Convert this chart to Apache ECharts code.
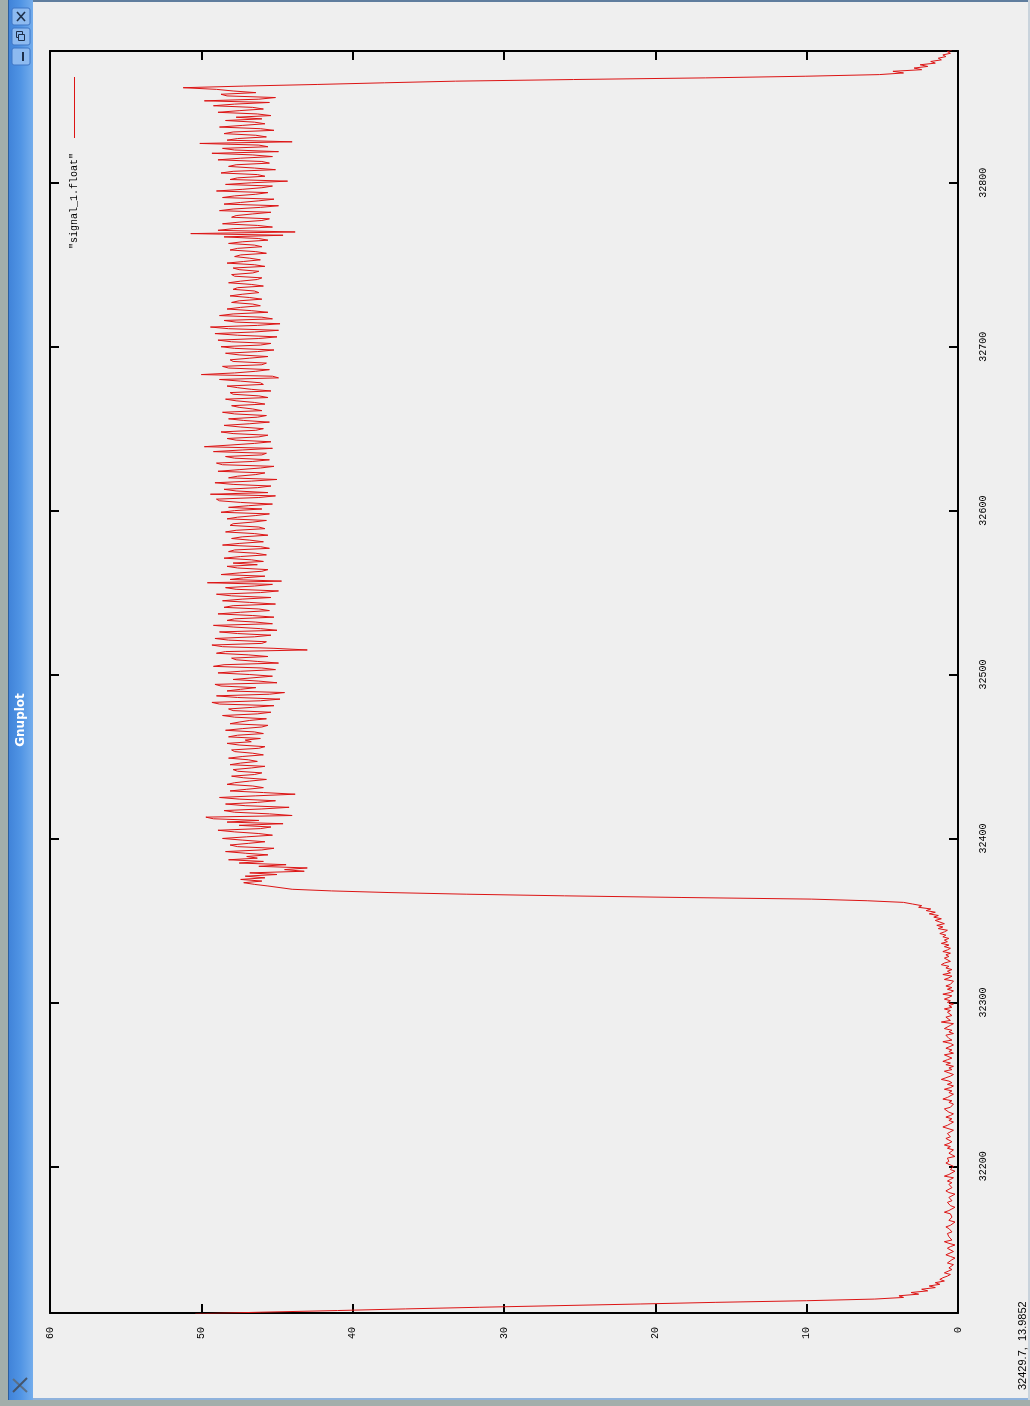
<!DOCTYPE html>
<html><head><meta charset="utf-8">
<script src="https://cdn.jsdelivr.net/npm/echarts@6/dist/echarts.min.js"></script>
<style>html,body{margin:0;padding:0;background:#efefef;}#c{width:1030px;height:1406px;}</style>
</head><body><div id="c"></div>
<script>
const WINDOW_TITLE = 'Gnuplot';
const SERIES_NAME = 'signal_1.float';
const STATUS_TEXT = '32429.7,  13.9852';
const SAMPLE_START = 32110;          // sample index of first value
const SAMPLE_MIN = 32110.5;          // visible sample range
const SAMPLE_MAX = 32880.4;
const SAMPLE_TICKS = [32200, 32300, 32400, 32500, 32600, 32700, 32800];
const VALUE_TICKS = [0, 10, 20, 30, 40, 50, 60];
const signal = [
/*32110*/ 50.4, 46.0, 41.0, 36.5, 31.6, 26.3, 21.0, 16.0, 10.0, 5.5,
/*32120*/ 3.6, 3.9, 2.6, 3.1, 2.0, 2.4, 1.5, 1.9, 1.2, 1.5,
/*32130*/ 0.9, 1.2, 1.0, 0.7, 0.5, 0.9, 0.8, 0.4, 0.6, 0.5,
/*32140*/ 0.3, 0.7, 0.6, 0.4, 0.2, 0.5, 0.8, 0.7, 0.3, 0.4,
/*32150*/ 0.7, 0.5, 0.2, 0.6, 0.9, 0.4, 0.3, 0.6, 0.5, 0.7,
/*32160*/ 0.4, 0.3, 0.6, 0.8, 0.5, 0.4, 0.2, 0.6, 0.7, 0.4,
/*32170*/ 0.3, 0.5, 0.9, 0.6, 0.4, 0.2, 0.5, 0.6, 0.7, 0.4,
/*32180*/ 0.3, 0.6, 0.5, 0.2, 0.6, 0.8, 0.7, 0.4, 0.3, 0.6,
/*32190*/ 0.4, 0.7, 0.5, 0.3, 0.9, 0.6, 0.4, 0.2, 0.5, 0.6,
/*32200*/ 0.3, 0.4, 0.8, 0.6, 0.5, 0.7, 0.2, 0.4, 0.6, 0.5,
/*32210*/ 0.3, 0.7, 0.5, 0.9, 0.6, 0.4, 0.3, 0.8, 0.5, 0.4,
/*32220*/ 0.7, 0.6, 0.3, 0.4, 1.0, 0.7, 0.5, 0.3, 0.6, 0.4,
/*32230*/ 0.8, 0.5, 0.3, 0.6, 0.7, 0.9, 0.5, 0.4, 0.3, 0.6,
/*32240*/ 0.4, 1.0, 0.7, 0.8, 0.3, 0.6, 0.4, 0.9, 0.5, 0.3,
/*32250*/ 0.7, 0.4, 0.6, 1.1, 0.8, 0.5, 0.3, 0.6, 0.9, 0.4,
/*32260*/ 0.6, 0.3, 0.8, 0.5, 1.0, 0.7, 0.4, 0.5, 0.9, 0.3,
/*32270*/ 0.6, 0.4, 0.8, 0.7, 0.3, 0.5, 1.0, 0.4, 0.6, 0.5,
/*32280*/ 0.8, 0.3, 0.6, 0.4, 0.9, 0.8, 0.5, 0.3, 1.1, 0.5,
/*32290*/ 0.6, 0.8, 0.4, 0.3, 0.7, 0.5, 0.9, 0.4, 0.6, 0.3,
/*32300*/ 0.7, 0.5, 0.9, 0.6, 0.4, 1.0, 0.5, 0.3, 0.7, 0.4,
/*32310*/ 0.8, 0.5, 0.6, 0.3, 0.9, 0.6, 0.4, 1.0, 0.5, 0.7,
/*32320*/ 0.4, 0.8, 0.6, 1.1, 0.9, 0.5, 0.4, 0.9, 0.6, 0.8,
/*32330*/ 0.5, 1.0, 0.7, 0.5, 0.9, 0.6, 1.1, 0.7, 0.9, 0.6,
/*32340*/ 1.0, 0.8, 1.2, 0.9, 0.7, 1.3, 1.0, 1.4, 0.9, 1.2,
/*32350*/ 1.5, 1.1, 1.6, 1.3, 1.9, 1.5, 2.1, 1.8, 2.6, 2.4,
/*32360*/ 3.0, 3.6, 6.0, 9.7, 18.3, 26.0, 32.5, 37.6, 41.4, 44.0,
/*32370*/ 44.8, 45.6, 46.5, 47.2, 46.0, 47.4, 45.8, 47.1, 45.0, 46.8,
/*32380*/ 43.2, 44.5, 43.0, 46.2, 44.4, 47.5, 45.9, 48.2, 46.3, 47.0,
/*32390*/ 45.6, 47.1, 48.4, 46.0, 45.2, 47.6, 48.1, 46.9, 45.8, 47.3,
/*32400*/ 48.6, 47.0, 45.3, 46.2, 47.8, 48.9, 46.1, 45.4, 47.5, 44.6,
/*32410*/ 48.3, 46.2, 49.2, 49.7, 44.0, 45.5, 47.8, 48.5, 46.0, 44.2,
/*32420*/ 47.1, 48.4, 46.3, 45.1, 47.5, 48.8, 46.4, 43.8, 45.9, 48.1,
/*32430*/ 47.0, 45.9, 46.6, 48.3, 47.8, 46.8, 45.7, 47.2, 48.0, 46.5,
/*32440*/ 46.0, 47.6, 47.9, 46.7, 45.8, 48.1, 47.4, 46.3, 46.9, 48.2,
/*32450*/ 47.3, 45.9, 46.6, 47.8, 48.0, 46.2, 45.8, 47.5, 48.3, 46.7,
/*32460*/ 47.1, 46.1, 48.2, 47.6, 45.9, 46.5, 48.4, 47.3, 46.0, 45.6,
/*32470*/ 48.1, 47.5, 46.8, 45.7, 47.8, 48.6, 46.3, 45.4, 47.9, 48.2,
/*32480*/ 46.6, 45.2, 48.8, 49.3, 46.1, 44.8, 47.6, 49.0, 45.5, 44.5,
/*32490*/ 48.3, 47.4, 46.4, 48.7, 49.1, 45.0, 46.2, 47.9, 48.0, 45.3,
/*32500*/ 46.8, 48.9, 47.4, 45.1, 46.0, 49.2, 48.5, 44.9, 46.3, 47.7,
/*32510*/ 48.0, 45.6, 46.9, 49.0, 48.4, 43.0, 45.2, 48.6, 49.3, 46.0,
/*32520*/ 45.7, 48.2, 49.1, 46.5, 45.4, 47.6, 48.8, 45.0, 46.1, 47.9,
/*32530*/ 49.2, 45.3, 46.4, 48.3, 47.8, 45.2, 46.6, 48.9, 47.4, 45.5,
/*32540*/ 46.2, 48.5, 47.9, 45.1, 46.8, 48.6, 47.3, 45.4, 48.0, 49.0,
/*32550*/ 46.1, 44.9, 47.7, 48.4, 46.5, 45.3, 49.6, 44.7, 48.1, 47.2,
/*32560*/ 45.8, 48.7, 47.5, 46.0, 45.6, 47.6, 48.3, 46.3, 47.9, 45.9,
/*32570*/ 46.7, 48.5, 47.4, 45.7, 46.4, 48.2, 47.8, 45.5, 46.1, 48.6,
/*32580*/ 47.5, 45.9, 46.8, 48.0, 47.3, 45.6, 46.5, 48.4, 47.7, 45.8,
/*32590*/ 46.2, 48.1, 47.9, 46.6, 45.7, 48.3, 47.6, 46.4, 45.5, 48.7,
/*32600*/ 47.8, 46.0, 48.2, 46.9, 45.3, 47.4, 48.8, 49.0, 46.2, 45.1,
/*32610*/ 49.4, 45.6, 47.7, 48.5, 46.3, 45.4, 47.9, 49.1, 46.7, 45.0,
/*32620*/ 48.2, 47.6, 46.4, 45.8, 48.9, 47.5, 46.1, 45.2, 48.6, 49.0,
/*32630*/ 46.6, 45.5, 47.8, 48.4, 46.0, 45.7, 49.2, 47.3, 45.3, 49.8,
/*32640*/ 48.1, 46.5, 45.4, 47.7, 48.3, 46.2, 45.6, 47.9, 48.7, 46.4,
/*32650*/ 45.9, 47.4, 48.5, 46.8, 45.5, 47.2, 48.2, 46.3, 45.7, 47.8,
/*32660*/ 48.6, 46.0, 46.6, 47.5, 48.0, 45.8, 46.5, 47.7, 48.4, 45.6,
/*32670*/ 46.2, 47.9, 48.1, 45.4, 46.7, 47.6, 48.3, 45.9, 46.1, 47.4,
/*32680*/ 48.8, 44.9, 45.3, 50.0, 47.8, 46.4, 45.5, 48.2, 48.6, 46.0,
/*32690*/ 45.7, 47.9, 48.1, 46.8, 45.6, 47.5, 48.4, 46.3, 45.2, 47.8,
/*32700*/ 48.7, 46.1, 45.4, 48.0, 48.9, 46.2, 45.0, 47.6, 49.1, 46.5,
/*32710*/ 44.9, 48.2, 49.4, 46.3, 44.8, 47.7, 48.5, 45.3, 46.0, 48.8,
/*32720*/ 47.9, 45.6, 46.7, 48.3, 47.4, 46.1, 46.6, 48.0, 47.5, 46.0,
/*32730*/ 46.8, 48.1, 47.3, 46.2, 46.5, 47.9, 47.6, 45.9, 46.7, 48.2,
/*32740*/ 47.4, 46.3, 46.0, 47.8, 48.0, 46.6, 46.2, 47.5, 47.9, 45.8,
/*32750*/ 46.5, 48.3, 47.2, 46.1, 46.8, 47.8, 47.4, 45.7, 46.4, 48.1,
/*32760*/ 47.6, 46.0, 46.5, 48.2, 47.3, 45.6, 46.2, 48.5, 44.6, 50.7,
/*32770*/ 43.8, 48.9, 47.9, 45.3, 46.3, 48.6, 47.5, 46.0, 45.5, 48.0,
/*32780*/ 47.7, 46.6, 45.4, 48.8, 47.9, 46.1, 44.9, 48.5, 47.4, 46.2,
/*32790*/ 45.2, 48.6, 47.8, 46.4, 45.6, 49.0, 47.3, 46.0, 45.3, 48.4,
/*32800*/ 46.7, 44.3, 48.1, 47.6, 45.8, 46.3, 48.7, 47.9, 45.1, 46.5,
/*32810*/ 48.2, 47.7, 45.5, 46.0, 48.9, 47.4, 45.3, 46.6, 49.3, 44.9,
/*32820*/ 47.8, 48.6, 45.6, 46.2, 50.1, 44.0, 48.3, 47.6, 45.7, 46.4,
/*32830*/ 48.5, 47.9, 45.2, 46.1, 48.8, 47.3, 45.8, 46.5, 48.4, 46.0,
/*32840*/ 47.7, 45.4, 46.3, 48.9, 47.5, 45.9, 46.6, 49.2, 47.8, 45.5,
/*32850*/ 49.8, 46.2, 45.1, 48.3, 48.7, 46.4, 47.9, 49.0, 51.2, 47.2,
/*32860*/ 42.3, 37.9, 33.2, 25.4, 16.7, 10.1, 5.2, 3.6, 4.3, 2.4,
/*32870*/ 2.9, 2.0, 2.5, 1.5, 1.8, 1.1, 1.3, 0.8, 1.0, 0.5,
/*32880*/ 0.7, 0.4
];

const chart = echarts.init(document.getElementById('c'), null, {renderer: 'canvas'});
const points = signal.map((v, i) => [v, SAMPLE_START + i]);
const AX = '#000000';
const tickFont = {color: AX, fontFamily: 'Liberation Mono', fontSize: 10};

function valueAxis(pos, labels) {
  return {
    type: 'value', position: pos, min: 0, max: 60, interval: 10, inverse: true,
    axisLine: {show: true, onZero: false, lineStyle: {color: AX, width: 2}},
    axisTick: {show: true, inside: true, length: 9, lineStyle: {color: AX, width: 2}, customValues: VALUE_TICKS},
    axisLabel: Object.assign({show: labels, rotate: 90, margin: 14, customValues: VALUE_TICKS}, tickFont),
    splitLine: {show: false}
  };
}
function sampleAxis(pos, labels) {
  return {
    type: 'value', position: pos, min: SAMPLE_MIN, max: SAMPLE_MAX, scale: true,
    axisLine: {show: true, onZero: false, lineStyle: {color: AX, width: 2}},
    axisTick: {show: true, inside: true, length: 9, lineStyle: {color: AX, width: 2}, customValues: SAMPLE_TICKS},
    axisLabel: Object.assign({show: labels, rotate: 90, margin: 20, customValues: SAMPLE_TICKS, formatter: v => String(v)}, tickFont),
    splitLine: {show: false}
  };
}

const RED = '#dc1414';
const graphics = [
  {type: 'rect', shape: {x: 0, y: 0, width: 8, height: 1406}, style: {fill: '#a3aeab'}, silent: true},
  {type: 'rect', shape: {x: 0, y: 1400, width: 1030, height: 6}, style: {fill: '#a3aeab'}, silent: true},
  {type: 'rect', shape: {x: 8, y: 1398, width: 1022, height: 2}, style: {fill: '#8fb2dc'}, silent: true},
  {type: 'rect', shape: {x: 8, y: 0, width: 1022, height: 2}, style: {fill: '#5f7d9e'}, silent: true},
  {type: 'rect', shape: {x: 1028, y: 0, width: 2, height: 1400}, style: {fill: '#c9d3dc'}, silent: true},
  {type: 'rect', shape: {x: 8, y: 0, width: 25, height: 1400},
   style: {fill: {type: 'linear', x: 0, y: 0, x2: 1, y2: 0,
     colorStops: [{offset: 0, color: '#3f82d8'}, {offset: 0.5, color: '#5094e4'}, {offset: 1, color: '#74adec'}]}}, silent: true},
  {type: 'rect', shape: {x: 8, y: 0, width: 1, height: 1400}, style: {fill: '#2d5e9e'}, silent: true},
  // buttons
  {type: 'rect', shape: {x: 12, y: 8, width: 18, height: 17, r: 2}, style: {fill: '#8dbaf0', stroke: '#3f76c6', lineWidth: 1}, silent: true},
  {type: 'line', shape: {x1: 17, y1: 12, x2: 25, y2: 21}, style: {stroke: '#1d2f4a', lineWidth: 1.6}, silent: true},
  {type: 'line', shape: {x1: 25, y1: 12, x2: 17, y2: 21}, style: {stroke: '#1d2f4a', lineWidth: 1.6}, silent: true},
  {type: 'rect', shape: {x: 12, y: 28, width: 18, height: 17, r: 2}, style: {fill: '#8dbaf0', stroke: '#3f76c6', lineWidth: 1}, silent: true},
  {type: 'rect', shape: {x: 16.5, y: 31.5, width: 6, height: 6}, style: {fill: 'none', stroke: '#1d2f4a', lineWidth: 1}, silent: true},
  {type: 'rect', shape: {x: 18.5, y: 34.5, width: 6, height: 6}, style: {fill: '#8dbaf0', stroke: '#1d2f4a', lineWidth: 1}, silent: true},
  {type: 'rect', shape: {x: 12, y: 48, width: 18, height: 17, r: 2}, style: {fill: '#8dbaf0', stroke: '#3f76c6', lineWidth: 1}, silent: true},
  {type: 'rect', shape: {x: 22, y: 52, width: 2, height: 9}, style: {fill: '#1d2f4a'}, silent: true},
  // title
  {type: 'text', x: 21, y: 720, rotation: Math.PI / 2,
   style: {text: WINDOW_TITLE, fill: '#ffffff', font: 'bold 12px "DejaVu Sans"', align: 'center', verticalAlign: 'middle'}, silent: true},
  // bottom-left icon
  {type: 'line', shape: {x1: 13, y1: 1379, x2: 27, y2: 1392}, style: {stroke: '#5b6f86', lineWidth: 2}, silent: true},
  {type: 'line', shape: {x1: 27, y1: 1378, x2: 13, y2: 1392}, style: {stroke: '#44546a', lineWidth: 2}, silent: true},
  // key
  {type: 'line', shape: {x1: 74.5, y1: 77, x2: 74.5, y2: 138}, style: {stroke: RED, lineWidth: 1}, silent: true},
  {type: 'text', x: 74, y: 249, rotation: Math.PI / 2,
   style: {text: '"' + SERIES_NAME + '"', fill: '#000', font: '10px "Liberation Mono"', align: 'left', verticalAlign: 'middle'}, silent: true},
  // status bar
  {type: 'text', x: 1023, y: 1390, rotation: Math.PI / 2,
   style: {text: STATUS_TEXT, fill: '#000', font: '11px "Liberation Sans"', align: 'left', verticalAlign: 'middle'}, silent: true}
];

chart.setOption({
  backgroundColor: '#efefef',
  animation: false,
  grid: {left: 50, right: 72, top: 51, bottom: 93, containLabel: false},
  xAxis: [valueAxis('bottom', true), valueAxis('top', false)],
  yAxis: [sampleAxis('right', true), sampleAxis('left', false)],
  series: [{
    name: SERIES_NAME, type: 'line', xAxisIndex: 0, yAxisIndex: 0,
    data: points, showSymbol: false, symbol: 'none', clip: true,
    lineStyle: {color: RED, width: 1}, z: 3
  }],
  graphic: graphics
});
</script></body></html>
